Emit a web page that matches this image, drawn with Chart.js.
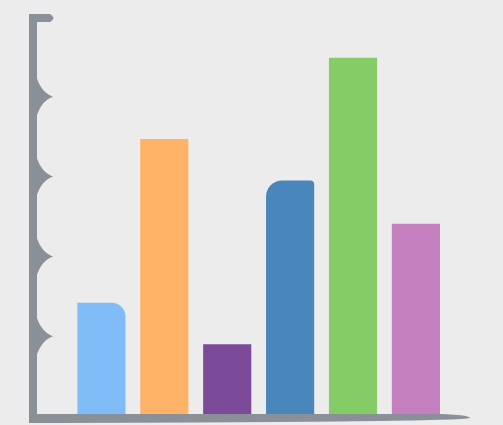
<!DOCTYPE html>
<html>
<head>
<meta charset="utf-8">
<script src="https://cdn.jsdelivr.net/npm/chart.js@4/dist/chart.umd.min.js"></script>
<style>
  html, body { margin: 0; padding: 0; background: #ececec; }
  #wrap { width: 503px; height: 425px; }
</style>
</head>
<body>
<div id="wrap"><canvas id="myChart" width="503" height="425"></canvas></div>
<script>
// data (no labels shown in the original)
const categories = ['A', 'B', 'C', 'D', 'E', 'F'];
const values = [14.2, 34.7, 9.0, 29.5, 44.9, 24.1];
const yTicks = [0, 10, 20, 30, 40, 50];

const barColors = ['#80bcf8', '#ffb366', '#7b4a98', '#4886bb', '#86cc66', '#c47fbe'];
const axisColor = '#8a9097';

// little bumps on the y axis, like a hand drawn brace
const axisBumps = {
  id: 'axisBumps',
  afterDraw(chart) {
    const { ctx, chartArea, scales } = chart;
    const x0 = chartArea.left;
    ctx.save();
    ctx.fillStyle = axisColor;
    // thicker y axis stroke
    ctx.fillRect(x0 - 7, chartArea.top - 3, 8, chartArea.bottom - chartArea.top + 9);
    yTicks.slice(1, -1).forEach(v => {
      const y = scales.y.getPixelForValue(v);
      ctx.beginPath();
      ctx.moveTo(x0 - 1, y - 26);
      ctx.quadraticCurveTo(x0 + 3, y - 5, x0 + 17, y);
      ctx.quadraticCurveTo(x0 + 3, y + 5, x0 - 1, y + 26);
      ctx.closePath();
      ctx.fill();
    });
    // top cap
    const top = scales.y.getPixelForValue(50);
    ctx.beginPath();
    ctx.moveTo(x0 - 7, top - 3);
    ctx.lineTo(x0 + 14, top - 3);
    ctx.quadraticCurveTo(x0 + 21, top + 1, x0 + 14, top + 5);
    ctx.lineTo(x0 - 7, top + 5);
    ctx.closePath();
    ctx.fill();
    // tapered end of the x axis
    const bottom = chartArea.bottom;
    ctx.beginPath();
    ctx.moveTo(x0 - 7, bottom - 2);
    ctx.lineTo(chartArea.right - 30, bottom - 2);
    ctx.quadraticCurveTo(chartArea.right, bottom - 1, chartArea.right, bottom + 2);
    ctx.quadraticCurveTo(chartArea.right - 10, bottom + 6, x0 - 7, bottom + 7);
    ctx.closePath();
    ctx.fill();
    ctx.restore();
  }
};

const ctx = document.getElementById('myChart').getContext('2d');
const myChart = new Chart(ctx, {
  type: 'bar',
  data: {
    datasets: [{
      data: values.map((v, i) => ({ x: i + 1, y: v })),
      backgroundColor: barColors,
      borderWidth: 0,
      borderRadius: (c) => {
        const i = c.dataIndex;
        if (i === 0) return { topLeft: 0, topRight: 14 };
        if (i === 3) return { topLeft: 16, topRight: 4 };
        return 0;
      },
      borderSkipped: 'bottom',
      barPercentage: 0.89,
      categoryPercentage: 1
    }]
  },
  options: {
    responsive: false,
    animation: false,
    layout: { padding: { left: 36, right: 33, top: 17, bottom: 9 } },
    plugins: { legend: { display: false }, tooltip: { enabled: false } },
    scales: {
      x: {
        type: 'linear',
        offset: false,
        min: -0.04,
        max: 6.86,
        ticks: { display: false },
        grid: { display: false, drawTicks: false, offset: false },
        border: { display: false }
      },
      y: {
        min: 0,
        max: 50,
        ticks: { display: false, stepSize: 10 },
        grid: { display: false, drawTicks: false },
        border: { display: false }
      }
    }
  },
  plugins: [axisBumps]
});
</script>
</body>
</html>
